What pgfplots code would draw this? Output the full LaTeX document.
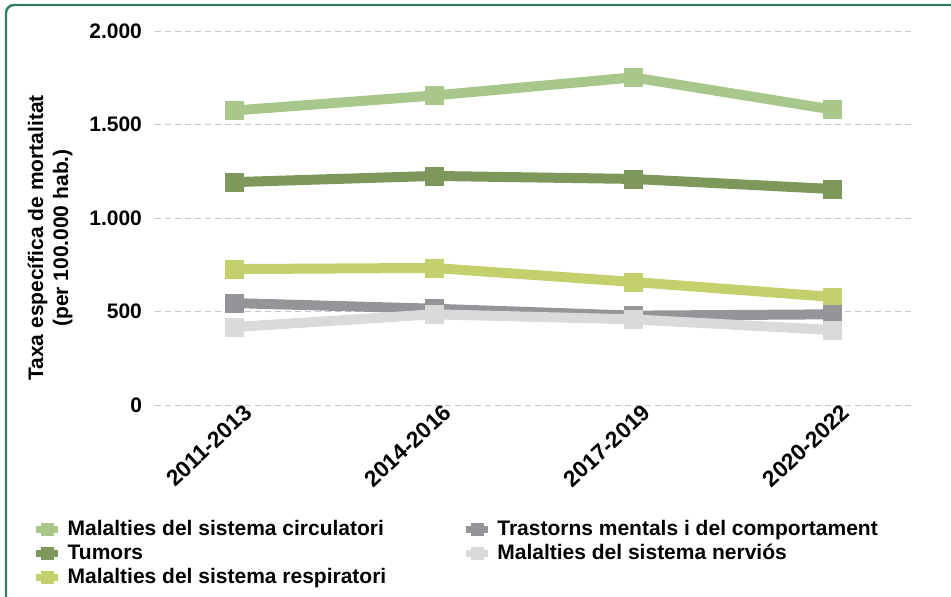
\documentclass[border=0pt]{standalone}
\usepackage{fontspec}
\setmainfont{Liberation Sans}
\usepackage{pgfplots}
\usepackage{pgfplotstable}
\pgfplotsset{compat=1.18}

\definecolor{circ}{HTML}{A9C78A}
\definecolor{tum}{HTML}{7D985A}
\definecolor{resp}{HTML}{C4D06C}
\definecolor{trast}{HTML}{939598}
\definecolor{nerv}{HTML}{D9DBDB}
\definecolor{frame}{HTML}{2E7D5E}

% periods: 2011-2013, 2014-2016, 2017-2019, 2020-2022
\pgfplotstableread{
x circ tum  resp trast nerv
0 1575 1192 727  545   417
1 1655 1225 733  515   485
2 1752 1209 658  478   458
3 1580 1155 578  485   401
}\taxes

\begin{document}
\begin{tikzpicture}
\useasboundingbox (0,0) rectangle (475.5pt,-298pt);
\draw[frame, line width=1.2pt, rounded corners=4pt] (3pt,-300pt) -- (3pt,-2.5pt) -- (480pt,-2.5pt);

\node[rotate=90, align=center, font=\fontsize{10.5}{12.5}\selectfont\bfseries]
  at (25pt,-119pt) {Taxa específica de mortalitat\\(per 100.000 hab.)};

\begin{axis}[
    at={(77.5pt,-202.5pt)}, anchor=south west,
    scale only axis,
    width=378.5pt, height=187pt,
    xmin=-0.40, xmax=3.40,
    ymin=0, ymax=2000,
    ytick={0,500,1000,1500,2000},
    xtick={0,1,2,3},
    xticklabels={2011-2013,2014-2016,2017-2019,2020-2022},
    axis line style={draw=none},
    major tick length=0pt,
    ymajorgrids,
    grid style={densely dashed, black!22, line width=0.5pt},
    /pgf/number format/.cd, 1000 sep={.}, assume math mode=true, /pgfplots/.cd,
    tick label style={font=\fontsize{10.5}{12}\selectfont\bfseries},
    yticklabel style={xshift=-3pt},
    xticklabel style={font=\fontsize{11.3}{12}\selectfont\bfseries,
        rotate=43, anchor=east, xshift=7pt, yshift=-6pt},
    legend columns=3,
    transpose legend,
    legend cell align=left,
    legend style={draw=none, fill=none,
        at={(axis description cs:-0.17,-0.285)}, anchor=north west,
        font=\fontsize{10.5}{12}\selectfont\bfseries,
        row sep=-1pt,
        /tikz/every even column/.append style={column sep=36pt},
        /tikz/every odd column/.append style={column sep=1pt}},
    legend image code/.code={
        \draw[mark repeat=2,mark phase=2,#1,line width=3.5pt,mark size=3pt]
            plot coordinates {(-5.5pt,0pt) (0pt,0pt) (5.5pt,0pt)};},
    every axis plot/.append style={line width=5pt, mark=square*, mark size=4.5pt,
        mark options={solid, line width=0.3pt}},
]
\addplot[circ] table[x=x, y=circ] {\taxes};
\addlegendentry{Malalties del sistema circulatori}
\addplot[tum] table[x=x, y=tum] {\taxes};
\addlegendentry{Tumors}
\addplot[resp] table[x=x, y=resp] {\taxes};
\addlegendentry{Malalties del sistema respiratori}
\addplot[trast] table[x=x, y=trast] {\taxes};
\addlegendentry{Trastorns mentals i del comportament}
\addplot[nerv] table[x=x, y=nerv] {\taxes};
\addlegendentry{Malalties del sistema nerviós}
\end{axis}
\end{tikzpicture}
\end{document}
